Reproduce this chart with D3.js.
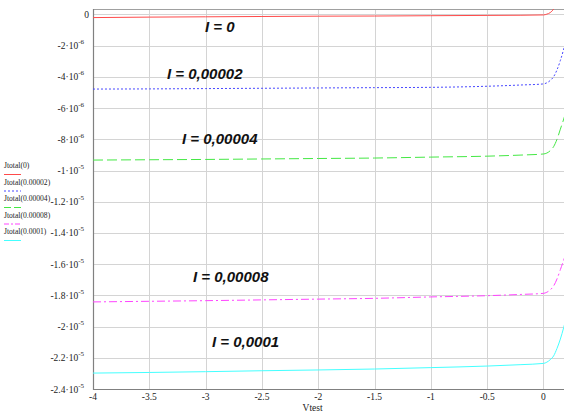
<!DOCTYPE html>
<html><head><meta charset="utf-8">
<script src="https://cdn.jsdelivr.net/npm/d3@7"></script>
<style>body{margin:0;background:#fff}svg{display:block}</style>
</head><body><svg id="c" width="564" height="414"></svg>
<script>
const vtest = [-4, -3.5, -3, -2.5, -2, -1.5, -1, -0.5, -0.2, 0, 0.03, 0.06, 0.09, 0.12, 0.15, 0.18, 0.2];
const seriesNames = ["Jtotal(0)", "Jtotal(0.00002)", "Jtotal(0.00004)", "Jtotal(0.00008)", "Jtotal(0.0001)"];
const j0 = [-0.2, -0.17, -0.15, -0.13, -0.11, -0.1, -0.08, -0.06, -0.05, -0.03, 0.02, 0.12, 0.35, 0.8, 1.5, 2.5, 3.2].map(v => v * 1e-6);
const j2 = [-4.78, -4.77, -4.75, -4.73, -4.71, -4.69, -4.67, -4.6, -4.52, -4.45, -4.38, -4.23, -3.99, -3.55, -2.95, -2.2, -1.6].map(v => v * 1e-6);
const j4 = [-9.33, -9.31, -9.29, -9.26, -9.23, -9.2, -9.14, -9.08, -9.01, -8.94, -8.88, -8.73, -8.47, -8.0, -7.35, -6.7, -6.2].map(v => v * 1e-6);
const j8 = [-18.42, -18.38, -18.34, -18.29, -18.24, -18.19, -18.1, -18.02, -17.94, -17.87, -17.8, -17.65, -17.4, -16.95, -16.35, -15.7, -15.1].map(v => v * 1e-6);
const j10 = [-22.98, -22.94, -22.89, -22.83, -22.78, -22.72, -22.63, -22.53, -22.44, -22.36, -22.28, -22.12, -21.88, -21.4, -20.8, -20.05, -19.5].map(v => v * 1e-6);
const xTicks = [-4, -3.5, -3, -2.5, -2, -1.5, -1, -0.5, 0];
const xTickLabels = ["-4", "-3.5", "-3", "-2.5", "-2", "-1.5", "-1", "-0.5", "0"];
const yTicks = [0, -2e-6, -4e-6, -6e-6, -8e-6, -1e-5, -1.2e-5, -1.4e-5, -1.6e-5, -1.8e-5, -2e-5, -2.2e-5, -2.4e-5];
const yMant = ["0", "-2", "-4", "-6", "-8", "-1", "-1.2", "-1.4", "-1.6", "-1.8", "-2", "-2.2", "-2.4"];
const yExp = ["", "-6", "-6", "-6", "-6", "-5", "-5", "-5", "-5", "-5", "-5", "-5", "-5"];
const annotations = ["I = 0", "I = 0,00002", "I = 0,00004", "I = 0,00008", "I = 0,0001"];

const allSeries = [j0, j2, j4, j8, j10];
const colors = ["#ff4a4a", "#4848ff", "#44e844", "#ff44ff", "#44ffff"];
const dashes = [null, "2,2", "10,4", "8,3,2,3", null];
const legendDashes = [null, "2,2", "7,3", "5,2,2,2", null];
const annotPos = [[205, 32], [167, 79], [182, 144], [193, 282], [212, 347]];

const svg = d3.select("#c");
const L = 93, R = 566, T = 9, B = 389;
const x = d3.scaleLinear().domain([-4, 0.2]).range([L, R]);
const y = d3.scaleLinear().domain([-2.4e-5, 0.35e-6]).range([B, T]);

// grid
const g = svg.append("g");
g.selectAll(".vg").data(xTicks.slice(1)).join("line")
  .attr("x1", d => Math.round(x(d)) + 0.5).attr("x2", d => Math.round(x(d)) + 0.5)
  .attr("y1", T).attr("y2", B).attr("stroke", "#d4d4d4");
g.selectAll(".hg").data(yTicks.slice(0, -1)).join("line")
  .attr("x1", L).attr("x2", 564)
  .attr("y1", d => Math.round(y(d)) + 0.5).attr("y2", d => Math.round(y(d)) + 0.5).attr("stroke", "#d4d4d4");
// top border
svg.append("line").attr("x1", L).attr("x2", 564).attr("y1", T + 0.5).attr("y2", T + 0.5).attr("stroke", "#a0a0a0");
// axes
svg.append("line").attr("x1", L + 0.5).attr("x2", L + 0.5).attr("y1", T).attr("y2", B + 1).attr("stroke", "#808080").attr("stroke-width", 1.2);
svg.append("line").attr("x1", L).attr("x2", 564).attr("y1", B + 0.5).attr("y2", B + 0.5).attr("stroke", "#808080").attr("stroke-width", 1.2);

// curves
svg.append("clipPath").attr("id", "clip").append("rect").attr("x", L).attr("y", T).attr("width", 564 - L).attr("height", B - T);
const line = d3.line().x((d, i) => x(vtest[i])).y(d => y(d)).curve(d3.curveMonotoneX);
svg.append("g").attr("clip-path", "url(#clip)").selectAll("path").data(allSeries).join("path")
  .attr("d", d => line(d)).attr("fill", "none")
  .attr("stroke", (d, i) => colors[i]).attr("stroke-width", 1)
  .attr("stroke-dasharray", (d, i) => dashes[i]);

// x tick labels
svg.selectAll(".xl").data(xTicks).join("text")
  .attr("x", d => x(d)).attr("y", 400).attr("text-anchor", "middle")
  .attr("font-family", "Liberation Serif").attr("font-size", 9.5).attr("fill", "#222")
  .text((d, i) => xTickLabels[i]);
svg.append("text").attr("x", x(-2.05)).attr("y", 411).attr("text-anchor", "middle")
  .attr("font-family", "Liberation Serif").attr("font-size", 9.5).attr("fill", "#222").text("Vtest");

// y tick labels
yTicks.forEach((d, i) => {
  const t = svg.append("text").attr("y", y(d) + 3.5)
    .attr("font-family", "Liberation Serif").attr("font-size", 9.5).attr("fill", "#222");
  if (yExp[i] === "") {
    t.attr("x", 89).attr("text-anchor", "end").text(yMant[i]);
  } else {
    t.attr("x", 84).attr("text-anchor", "end");
    t.append("tspan").text(yMant[i] + "\u00b710");
    t.append("tspan").attr("dy", -5).attr("font-size", 7).text(yExp[i]);
  }
});

// legend
seriesNames.forEach((n, i) => {
  const ty = 168 + i * 16.5;
  svg.append("text").attr("x", 4).attr("y", ty).attr("font-family", "Liberation Serif")
    .attr("font-size", 7.6).attr("fill", "#222").text(n);
  svg.append("line").attr("x1", 4).attr("x2", 21).attr("y1", ty + 6.5).attr("y2", ty + 6.5)
    .attr("stroke", colors[i]).attr("stroke-dasharray", legendDashes[i]);
});

// annotations
annotations.forEach((a, i) => {
  svg.append("text").attr("x", annotPos[i][0]).attr("y", annotPos[i][1])
    .attr("font-family", "Liberation Sans").attr("font-weight", "bold").attr("font-style", "italic")
    .attr("font-size", 15).attr("fill", "#111").text(a);
});
</script></body></html>
